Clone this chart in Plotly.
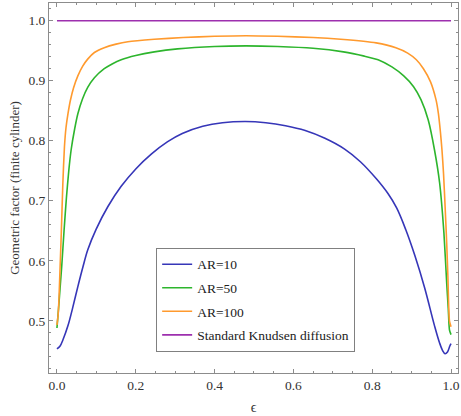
import plotly.graph_objects as go

# ---- data ----
eps_ar10 = [0, 0.008, 0.015, 0.028, 0.04, 0.053, 0.066, 0.078, 0.099, 0.129, 0.163, 0.2,
            0.24, 0.28, 0.318, 0.37, 0.42, 0.478, 0.53, 0.58, 0.63, 0.68, 0.73, 0.77,
            0.81, 0.84, 0.862, 0.885, 0.908, 0.933, 0.958, 0.971, 0.979, 0.985, 0.991, 0.997, 1.0]
val_ar10 = [0.453, 0.458, 0.468, 0.492, 0.522, 0.557, 0.59, 0.618, 0.652, 0.69, 0.724, 0.753,
            0.778, 0.798, 0.812, 0.824, 0.830, 0.832, 0.830, 0.825, 0.817, 0.804, 0.786, 0.765,
            0.737, 0.712, 0.688, 0.652, 0.609, 0.555, 0.492, 0.463, 0.450, 0.445, 0.448, 0.458, 0.462]

eps_ar50 = [0, 0.004, 0.008, 0.012, 0.018, 0.024, 0.03, 0.036, 0.045, 0.053, 0.065, 0.078,
            0.095, 0.12, 0.14, 0.163, 0.2, 0.247, 0.306, 0.4, 0.48, 0.56, 0.65, 0.727, 0.78,
            0.815, 0.85, 0.88, 0.905, 0.924, 0.942, 0.958, 0.971, 0.982, 0.989, 0.993,
            0.996, 1.0]
val_ar50 = [0.488, 0.52, 0.555, 0.59, 0.65, 0.705, 0.75, 0.785, 0.82, 0.845, 0.870, 0.889,
            0.905, 0.920, 0.928, 0.935, 0.942, 0.948, 0.953, 0.957, 0.958, 0.957, 0.954, 0.948, 0.941,
            0.935, 0.923, 0.908, 0.890, 0.868, 0.835, 0.785, 0.730, 0.646, 0.563, 0.52,
            0.485, 0.477]

eps_ar100 = [0, 0.003, 0.005, 0.008, 0.011, 0.015, 0.019, 0.023, 0.028, 0.034, 0.042, 0.053,
             0.065, 0.078, 0.095, 0.12, 0.15, 0.18, 0.247, 0.32, 0.4, 0.48, 0.56, 0.65, 0.72,
             0.81, 0.86, 0.89, 0.912, 0.93, 0.948, 0.962, 0.968, 0.973, 0.977, 0.981, 0.985,
             0.989, 0.992, 0.996, 1.0]
val_ar100 = [0.493, 0.51, 0.535, 0.59, 0.646, 0.73, 0.79, 0.822, 0.845, 0.867, 0.888, 0.908,
             0.924, 0.936, 0.947, 0.955, 0.961, 0.965, 0.969, 0.972, 0.974, 0.975, 0.974, 0.972, 0.969,
             0.963, 0.955, 0.946, 0.935, 0.92, 0.898, 0.868, 0.845, 0.815, 0.785, 0.745, 0.690,
             0.630, 0.575, 0.500, 0.49]

eps_std = [0.0, 1.0]
val_std = [1.0, 1.0]

names = ["AR=10", "AR=50", "AR=100", "Standard Knudsen diffusion"]
colors = ["#3636b8", "#2db52d", "#ff9a2e", "#9d2fae"]

x_ticks = [0.0, 0.2, 0.4, 0.6, 0.8, 1.0]
x_ticktext = ["0.0", "0.2", "0.4", "0.6", "0.8", "1.0"]
y_ticks = [0.5, 0.6, 0.7, 0.8, 0.9, 1.0]
y_ticktext = ["0.5", "0.6", "0.7", "0.8", "0.9", "1.0"]

series = [(eps_ar10, val_ar10), (eps_ar50, val_ar50), (eps_ar100, val_ar100), (eps_std, val_std)]
smooth = [1.0, 0.6, 0.6, 0.0]

fig = go.Figure()
for i, ((xs, ys), nm, c, s) in enumerate(zip(series, names, colors, smooth)):
    fig.add_trace(go.Scatter(x=xs, y=ys, mode="lines", name=nm,
                             line=dict(color=c, width=1.6, shape="spline", smoothing=s),
                             legendgroup=f"g{i}"))

font_family = "Liberation Serif"
axis_col = "#8c8c8c"

fig.update_layout(
    width=461, height=416,
    margin=dict(l=49, r=1, t=3, b=43),
    paper_bgcolor="white", plot_bgcolor="white",
    font=dict(family=font_family, size=13, color="#333333"),
    showlegend=True,
    legend=dict(x=0.262, y=0.338, xanchor="left", yanchor="top",
                bgcolor="white", bordercolor="#808080", borderwidth=1,
                font=dict(family=font_family, size=13.5, color="#222222"),
                traceorder="grouped", tracegroupgap=3, itemwidth=30),
)

fig.update_xaxes(
    range=[-0.0202, 1.0177], showgrid=False, zeroline=False,
    showline=True, linecolor=axis_col, linewidth=1, mirror="allticks",
    ticks="inside", ticklen=4, tickcolor=axis_col,
    tickvals=x_ticks, ticktext=x_ticktext, ticklabeloverflow="allow",
    minor=dict(dtick=0.05, tick0=0, ticks="inside", ticklen=2, tickcolor=axis_col),
    title=dict(text="ϵ", font=dict(family=font_family, size=14), standoff=9),
    tickfont=dict(family=font_family, size=13.5, color="#333333"),
)
fig.update_yaxes(
    range=[0.413, 1.0295], showgrid=False, zeroline=False,
    showline=True, linecolor=axis_col, linewidth=1, mirror="allticks",
    ticks="inside", ticklen=4, tickcolor=axis_col,
    tickvals=y_ticks, ticktext=y_ticktext,
    minor=dict(dtick=0.02, tick0=0, ticks="inside", ticklen=2, tickcolor=axis_col),
    title=dict(text="Geometric factor (finite cylinder)", font=dict(family=font_family, size=13), standoff=5),
    tickfont=dict(family=font_family, size=13.5, color="#333333"),
)

fig.write_html("out.html", config={"displayModeBar": False},
               post_script="document.body.style.margin='0';document.body.style.overflow='hidden';")
